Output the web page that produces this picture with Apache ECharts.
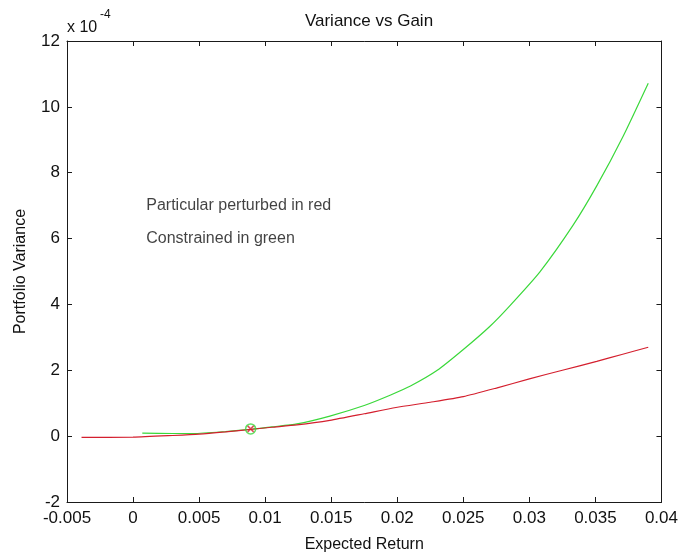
<!DOCTYPE html>
<html>
<head>
<meta charset="utf-8">
<script src="https://cdn.jsdelivr.net/npm/echarts@6/dist/echarts.min.js"></script>
<style>
html,body{margin:0;padding:0;background:#fff;}
#c{width:681px;height:558px;}
</style>
</head>
<body>
<div id="c"></div>
<script>
// Values in units of 1e-4 for variance
const redX = [-0.0039, 0, 0.003, 0.005, 0.007, 0.009, 0.0105, 0.0124, 0.0149, 0.0175, 0.0199, 0.0225, 0.025, 0.0275, 0.03, 0.0325, 0.0351, 0.037, 0.039];
const redY = [-0.04, -0.03, 0.02, 0.06, 0.13, 0.21, 0.27, 0.34, 0.48, 0.68, 0.87, 1.03, 1.20, 1.46, 1.74, 2.00, 2.27, 2.48, 2.70];
const greenX = [0.0007, 0.003, 0.0046, 0.007, 0.009, 0.0105, 0.0124, 0.0149, 0.0175, 0.0195, 0.021, 0.023, 0.025, 0.027, 0.0285, 0.0308, 0.0333, 0.0351, 0.0371, 0.039];
const greenY = [0.09, 0.08, 0.08, 0.14, 0.21, 0.28, 0.37, 0.61, 0.93, 1.25, 1.52, 1.99, 2.63, 3.33, 3.95, 4.99, 6.40, 7.60, 9.11, 10.72];
const markerPoint = [0.0089, 0.22];
const notes = ['Particular perturbed in red', 'Constrained in green'];
const noteX = [0.001, 0.001];
const noteY = [7, 6];
const xTicks = ['-0.005', '0', '0.005', '0.01', '0.015', '0.02', '0.025', '0.03', '0.035', '0.04'];
const yTicks = ['-2', '0', '2', '4', '6', '8', '10', '12'];

const FONT = '"Liberation Sans", Arial, sans-serif';
const AX = '#1a1a1a';

const chart = echarts.init(document.getElementById('c'), null, {renderer: 'canvas'});

function xFmt(v) { return parseFloat(v.toFixed(3)).toString(); }

const commonTick = {show: true, inside: true, length: 5, lineStyle: {color: AX, width: 1}};

const option = {
  backgroundColor: '#ffffff',
  animation: false,
  title: {
    text: 'Variance vs Gain',
    left: 364, top: 8, textAlign: 'center',
    textStyle: {fontFamily: FONT, fontSize: 17, fontWeight: 'normal', color: '#111'}
  },
  grid: {left: 67, right: 19, top: 41, bottom: 53, containLabel: false},
  xAxis: [{
    type: 'value', min: -0.005, max: 0.04, interval: 0.005,
    name: 'Expected Return', nameLocation: 'middle', nameGap: 35,
    nameTextStyle: {fontFamily: FONT, fontSize: 16, color: '#111'},
    axisLine: {show: true, onZero: false, lineStyle: {color: AX, width: 1}},
    axisTick: commonTick,
    axisLabel: {fontFamily: FONT, fontSize: 17, color: '#111', margin: 8,
      formatter: function (v) { const s = xFmt(v); return xTicks.indexOf(s) >= 0 ? s : ''; }},
    splitLine: {show: false}
  }, {
    type: 'value', position: 'top', min: -0.005, max: 0.04, interval: 0.005,
    axisLine: {show: true, onZero: false, lineStyle: {color: AX, width: 1}},
    axisTick: commonTick, axisLabel: {show: false}, splitLine: {show: false}
  }],
  yAxis: [{
    type: 'value', min: -2, max: 12, interval: 2,
    name: 'Portfolio Variance', nameLocation: 'middle', nameGap: 38, nameRotate: 90,
    nameTextStyle: {fontFamily: FONT, fontSize: 16, color: '#111'},
    axisLine: {show: true, onZero: false, lineStyle: {color: AX, width: 1}},
    axisTick: commonTick,
    axisLabel: {fontFamily: FONT, fontSize: 17, color: '#111', margin: 7,
      formatter: function (v) { const s = String(Math.round(v)); return yTicks.indexOf(s) >= 0 ? s : ''; }},
    splitLine: {show: false}
  }, {
    type: 'value', position: 'right', min: -2, max: 12, interval: 2,
    axisLine: {show: true, onZero: false, lineStyle: {color: AX, width: 1}},
    axisTick: commonTick, axisLabel: {show: false}, splitLine: {show: false}
  }],
  graphic: [
    {type: 'text', left: 67, top: 20, style: {text: 'x 10', font: '16px ' + FONT, fill: '#111'}},
    {type: 'text', left: 100, top: 9, style: {text: '-4', font: '12px ' + FONT, fill: '#111'}}
  ],
  series: [
    {
      type: 'line', name: 'Constrained', showSymbol: false, symbol: 'none', smooth: 0.2,
      lineStyle: {color: '#3ad83a', width: 1.2},
      data: greenX.map((x, i) => [x, greenY[i]]), z: 2
    },
    {
      type: 'line', name: 'Perturbed', showSymbol: false, symbol: 'none', smooth: 0.2,
      lineStyle: {color: '#d41f2e', width: 1.2},
      data: redX.map((x, i) => [x, redY[i]]), z: 3
    },
    {
      type: 'scatter', symbol: 'circle', symbolSize: 10,
      itemStyle: {color: 'rgba(0,0,0,0)', borderColor: '#3ad83a', borderWidth: 1.5},
      data: [markerPoint], z: 4
    },
    {
      type: 'scatter', symbol: 'path://M0,0L10,10M10,0L0,10', symbolSize: 6,
      itemStyle: {color: 'rgba(0,0,0,0)', borderColor: '#d41f2e', borderWidth: 1.5},
      data: [markerPoint], z: 5
    },
    {
      type: 'scatter', symbolSize: 0, silent: true,
      data: notes.map((t, i) => ({value: [noteX[i], noteY[i]], name: t})),
      label: {show: true, position: 'right', distance: 0, formatter: '{b}',
        fontFamily: FONT, fontSize: 16, color: '#111'},
      z: 6
    }
  ]
};
chart.setOption(option);
</script>
</body>
</html>
